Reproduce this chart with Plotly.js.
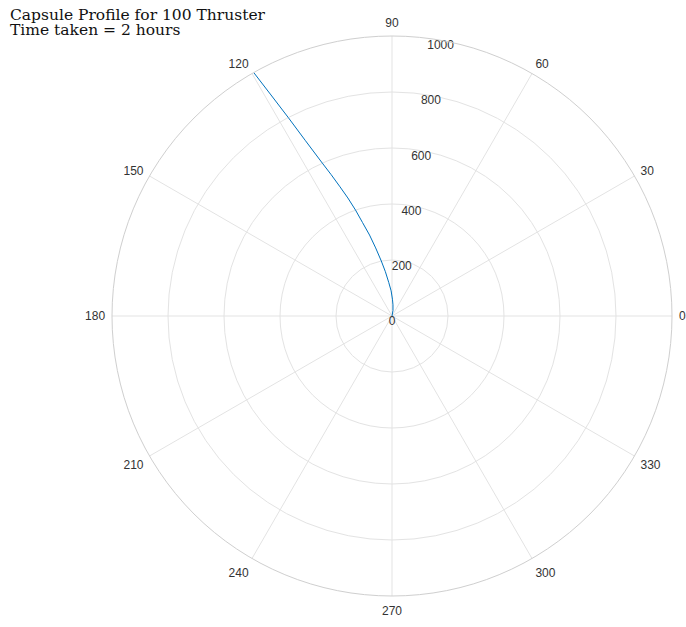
<!DOCTYPE html>
<html>
<head>
<meta charset="utf-8">
<script src="https://cdn.plot.ly/plotly-3.0.1.min.js"></script>
<style>
html,body{margin:0;padding:0;background:#fff;}
#chart{width:686px;height:627px;}
</style>
</head>
<body>
<div id="chart"></div>
<script>
// Radial distance of capsule
var radius = [0, 20, 40, 60, 90, 120, 160, 200, 250, 300, 350, 400, 450, 500, 550, 600, 700, 800, 900, 1000];
// Angle (degrees)
var angleDeg = [78, 80, 85, 88.5, 92, 95.5, 98.5, 101, 103.5, 105.5, 107.5, 109, 110.5, 112, 113.3, 114.5, 116.3, 117.6, 118.7, 119.6];
var angleTicks = [0, 30, 60, 90, 120, 150, 180, 210, 240, 270, 300, 330];
var radialTicks = [0, 200, 400, 600, 800, 1000];
var radialLabelAngle = 80;
var titleLines = ['Capsule Profile for 100 Thruster', 'Time taken = 2 hours'];

var W = 686, H = 627;
var M = {l: 112, r: 14, t: 36, b: 31};
var PW = W - M.l - M.r, PH = H - M.t - M.b;

var trace = {
  type: 'scatterpolar',
  mode: 'lines',
  r: radius,
  theta: angleDeg,
  line: {color: '#0072BD', width: 1},
  hoverinfo: 'skip'
};

var labelTrace = {
  type: 'scatterpolar',
  mode: 'text',
  r: radialTicks,
  theta: radialTicks.map(function () { return radialLabelAngle; }),
  text: radialTicks.map(String),
  textposition: 'bottom center',
  textfont: {family: 'Liberation Sans', size: 12, color: '#333333'},
  hoverinfo: 'skip',
  cliponaxis: false
};

function px2paperX(x) { return (x - M.l) / PW; }
function px2paperY(y) { return (H - M.b - y) / PH; }

var layout = {
  width: W,
  height: H,
  paper_bgcolor: '#ffffff',
  showlegend: false,
  margin: M,
  annotations: [
    {text: titleLines[0], xref: 'paper', yref: 'paper', x: px2paperX(8), y: px2paperY(15),
     xanchor: 'left', yanchor: 'middle', showarrow: false,
     font: {family: 'DejaVu Serif', size: 15.5, color: '#111111'}},
    {text: titleLines[1], xref: 'paper', yref: 'paper', x: px2paperX(8), y: px2paperY(30),
     xanchor: 'left', yanchor: 'middle', showarrow: false,
     font: {family: 'DejaVu Serif', size: 15.5, color: '#111111'}}
  ],
  polar: {
    bgcolor: '#ffffff',
    domain: {x: [0, 1], y: [0, 1]},
    radialaxis: {
      range: [0, 1000],
      tickvals: radialTicks,
      angle: radialLabelAngle,
      showticklabels: false,
      showline: false,
      ticks: '',
      gridcolor: '#e3e3e3',
      gridwidth: 1
    },
    angularaxis: {
      rotation: 0,
      direction: 'counterclockwise',
      tickvals: angleTicks,
      ticktext: angleTicks.map(String),
      ticks: 'outside',
      ticklen: 4,
      tickcolor: 'rgba(0,0,0,0)',
      showline: true,
      linecolor: '#cfcfcf',
      linewidth: 1,
      gridcolor: '#e3e3e3',
      gridwidth: 1,
      tickfont: {family: 'Liberation Sans', size: 12, color: '#333333'}
    }
  }
};

Plotly.newPlot('chart', [trace, labelTrace], layout, {staticPlot: true, displayModeBar: false});
</script>
</body>
</html>
